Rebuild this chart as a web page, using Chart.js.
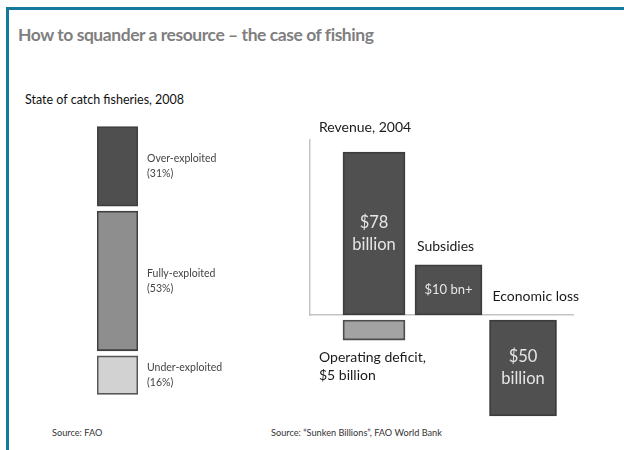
<!DOCTYPE html>
<html>
<head>
<meta charset="utf-8">
<script src="https://cdn.jsdelivr.net/npm/chart.js@4.4.1/dist/chart.umd.min.js"></script>
<style>
  html, body { margin: 0; padding: 0; background: #fff; }
  body { width: 624px; height: 450px; position: relative; overflow: hidden; font-family: Lato, 'Open Sans', sans-serif; }
  .frame { position: absolute; left: 6px; top: 7px; width: 640px; height: 460px; border-left: 3px solid #16789a; border-top: 3px solid #16789a; }
  .title { position: absolute; left: 18px; top: 24px; font-size: 17.5px; letter-spacing: -0.45px; line-height: 22px; font-weight: bold; color: #7f7f7f; white-space: nowrap; }
  .sub { position: absolute; left: 25px; top: 92px; font-size: 12.5px; line-height: 16px; color: #111; white-space: nowrap; }
  .src { position: absolute; top: 426px; font-size: 9.2px; line-height: 14px; color: #333; white-space: nowrap; }
  .box { position: absolute; }
</style>
</head>
<body>
<div class="frame"></div>
<div class="title">How to squander a resource – the case of fishing</div>
<div class="sub">State of catch fisheries, 2008</div>
<div class="src" style="left:52px">Source: FAO</div>
<div class="src" style="left:271px">Source: “Sunken Billions”, FAO World Bank</div>

<div class="box" style="left:90px; top:110px; width:190px; height:300px;"><canvas id="state-chart"></canvas></div>
<div class="box" style="left:300px; top:110px; width:300px; height:320px;"><canvas id="cost-chart"></canvas></div>

<script>
(function () {
  'use strict';

  // ---- Data ----
  const stateLabels = ['Over-exploited', 'Fully-exploited', 'Under-exploited'];
  const stateShares = [31, 53, 16];
  const stateColors = ['#4f4f4f', '#8e8e8e', '#d2d2d2'];

  // bars are not drawn to scale in the original; spans (revenue = 78)
  const costItems = ['Revenue, 2004', 'Subsidies', 'Economic loss', 'Operating deficit,\n$5 billion'];
  const costSlots = [1, 2, 3, 1];
  const barFrom = [0, 0, -2.4, -2.4];
  const barTo = [78, 24, -48.3, -12];
  const insideText = [['$78', 'billion'], ['$10 bn+'], ['$50', 'billion'], []];
  const costColors = ['#505050', '#505050', '#505050', '#a3a3a3'];

  const FONT = 'Lato, "Open Sans", sans-serif';

  // ---- Gap between stacked segments ----
  const segGap = {
    id: 'segGap',
    beforeDatasetsDraw(chart, args, opts) {
      chart.getSortedVisibleDatasetMetas().forEach(m => m.data.forEach(el => { el.y += opts.gap; el.base -= opts.gap; }));
    },
    afterDatasetsDraw(chart, args, opts) {
      chart.getSortedVisibleDatasetMetas().forEach(m => m.data.forEach(el => { el.y -= opts.gap; el.base += opts.gap; }));
    }
  };

  const stateText = {
    id: 'stateText',
    afterDatasetsDraw(chart) {
      const ctx = chart.ctx;
      ctx.save();
      ctx.font = '10.5px ' + FONT;
      ctx.fillStyle = '#444';
      ctx.textAlign = 'left';
      ctx.textBaseline = 'middle';
      chart.data.datasets.forEach((ds, i) => {
        const el = chart.getDatasetMeta(i).data[0];
        const cy = (el.y + el.base) / 2;
        const x = el.x + el.width / 2 + 9;
        ctx.fillText(ds.label, x, cy - 7.5);
        ctx.fillText('(' + ds.data[0] + '%)', x, cy + 7.5);
      });
      ctx.restore();
    }
  };

  // bottom of stack first
  const stateSets = stateLabels.map((name, i) => ({
    label: name,
    data: [stateShares[i]],
    backgroundColor: stateColors[i],
    borderColor: i === 2 ? '#555' : '#3f3f3f',
    borderWidth: 1.8,
    borderSkipped: false
  })).reverse();

  new Chart(document.getElementById('state-chart'), {
    type: 'bar',
    data: { labels: ['2008'], datasets: stateSets },
    options: {
      responsive: true,
      maintainAspectRatio: false,
      animation: false,
      layout: { padding: { left: 7, right: 142, top: 14, bottom: 13 } },
      categoryPercentage: 1,
      barPercentage: 1,
      plugins: { legend: { display: false }, tooltip: { enabled: false }, segGap: { gap: 2.5 } },
      scales: {
        x: { display: false, stacked: true },
        y: { display: false, stacked: true, min: 0, max: 100 }
      }
    },
    plugins: [segGap, stateText]
  });

  // ---- Revenue / cost chart ----
  const costText = {
    id: 'costText',
    afterDatasetsDraw(chart) {
      const { ctx, chartArea } = chart;
      const zero = chart.scales.y.getPixelForValue(0);
      ctx.save();
      chart.data.datasets.forEach((ds, i) => {
        const el = chart.getDatasetMeta(i).data[0];
        const top = Math.min(el.y, el.base);
        const bottom = Math.max(el.y, el.base);
        const left = el.x - el.width / 2;

        const lines = insideText[i];
        ctx.fillStyle = '#e6e6e6';
        ctx.textAlign = 'center';
        ctx.textBaseline = 'middle';
        ctx.font = (lines.length > 1 ? 16.5 : 13) + 'px ' + FONT;
        lines.forEach((t, k) => {
          ctx.fillText(t, el.x, (top + bottom) / 2 + (k - (lines.length - 1) / 2) * 22);
        });

        ctx.fillStyle = '#1a1a1a';
        ctx.textAlign = 'left';
        ctx.font = '14px ' + FONT;
        const cap = ds.label.split('\n');
        if (i === 0) ctx.fillText(cap[0], chartArea.left + 9, chartArea.top - 13);
        if (i === 1) ctx.fillText(cap[0], left + 2, top - 18);
        if (i === 2) ctx.fillText(cap[0], left + 3, zero - 19);
        if (i === 3) cap.forEach((t, k) => ctx.fillText(t, chartArea.left + 9, bottom + 17 + k * 18));
      });
      ctx.restore();
    }
  };

  const costSets = costItems.map((name, i) => ({
    label: name,
    data: [{ x: costSlots[i], y: [barFrom[i], barTo[i]] }],
    backgroundColor: costColors[i],
    borderColor: i === 3 ? '#4d4d4d' : '#3c3c3c',
    borderWidth: 1.8,
    borderSkipped: false,
    barThickness: (i === 0 || i === 3) ? 62 : 67,
    grouped: false,
    clip: false
  }));

  new Chart(document.getElementById('cost-chart'), {
    type: 'bar',
    data: { datasets: costSets },
    options: {
      responsive: true,
      maintainAspectRatio: false,
      animation: false,
      layout: { padding: { left: 10, right: 27, top: 30, bottom: 115 } },
      plugins: { legend: { display: false }, tooltip: { enabled: false } },
      scales: {
        x: {
          type: 'linear', min: 0.141, max: 3.671, offset: false,
          ticks: { display: false },
          grid: { display: false, drawTicks: false },
          border: { display: true, color: '#c4c4c4', width: 1.5 }
        },
        y: {
          stacked: false, min: 0, max: 83.74,
          ticks: { display: false },
          grid: { display: false, drawTicks: false },
          border: { display: true, color: '#c4c4c4', width: 1.5 }
        }
      }
    },
    plugins: [costText]
  });
})();
</script>
</body>
</html>
